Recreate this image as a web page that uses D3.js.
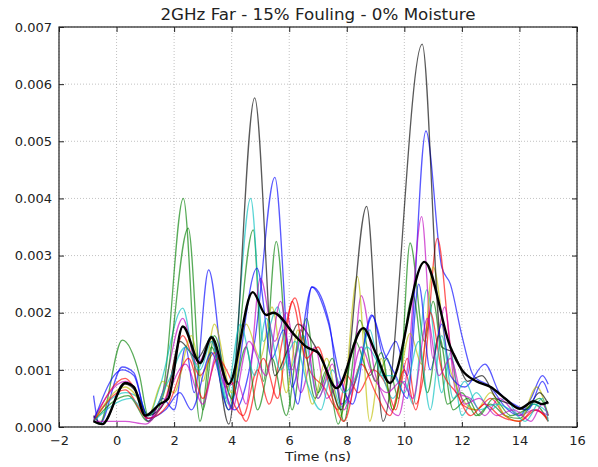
<!DOCTYPE html>
<html>
<head>
<meta charset="utf-8">
<script src="https://d3js.org/d3.v7.min.js"></script>
<style>
  body { margin: 0; background: #fff; }
  text { font-family: "DejaVu Sans", sans-serif; fill: #222; }
</style>
</head>
<body>
<div id="chart"></div>
<script>
// chart values (time in ns, amplitude)
var title = "2GHz Far - 15% Fouling - 0% Moisture";
var xLabel = "Time (ns)";
var xTicks = [-2, 0, 2, 4, 6, 8, 10, 12, 14, 16];
var yTicks = [0, 0.001, 0.002, 0.003, 0.004, 0.005, 0.006, 0.007];

var seriesColors = ["#0000ff", "#008000", "#ff0000", "#00bfbf", "#bf00bf", "#bfbf00",
                    "#000000", "#0000ff", "#008000", "#ff0000", "#00bfbf", "#bf00bf"];

// each trace as [t, value] turning points
var trace1 = [[-0.8,0.00055],[-0.6,0.00005],[0.2,0.00105],[0.6,0.00095],[1.1,0.0001],[1.6,0.0005],[2.0,0.0003],[2.4,0.0014],[2.7,0.0006],[3.2,0.00275],[3.8,0.0006],[4.1,0.0003],[4.8,0.0015],[5.5,0.00437],[6.1,0.0007],[6.8,0.00245],[7.4,0.0018],[7.8,0.0004],[8.3,0.0008],[8.9,0.00195],[9.3,0.0012],[9.7,0.0015],[10.1,0.0009],[10.75,0.00518],[11.3,0.0028],[11.6,0.0025],[12.0,0.0016],[12.4,0.0009],[13.0,0.0007],[13.5,0.00035],[14.0,0.0002],[14.4,0.0005],[14.8,0.0009],[15.0,0.00075]];
var trace2 = [[-0.8,0.0001],[-0.6,0.00005],[0.2,0.00152],[0.8,0.0009],[1.1,0.0002],[1.6,0.0006],[2.32,0.004],[2.9,0.0001],[3.3,0.0014],[3.9,0.0003],[4.75,0.00345],[5.1,0.0008],[5.55,0.00325],[6.1,0.0003],[6.6,0.0019],[7.0,0.0006],[7.5,0.0012],[7.9,0.0001],[8.45,0.00187],[9.0,0.0008],[9.4,0.0012],[9.8,0.0005],[10.2,0.00322],[10.7,0.0015],[11.0,0.0022],[11.5,0.0004],[12.0,0.0006],[12.5,0.0002],[13.0,0.0004],[13.5,0.0002],[14.0,0.00015],[14.5,0.0004],[15.0,0.0001]];
var trace3 = [[-0.8,0.0001],[0.3,0.00085],[0.6,0.0007],[1.1,0.00015],[1.7,0.0005],[2.3,0.0016],[2.9,0.0009],[3.4,0.0013],[3.9,0.0006],[4.4,0.0002],[4.9,0.001],[5.3,0.0004],[5.8,0.0016],[6.2,0.00226],[6.7,0.001],[7.2,0.0007],[7.7,0.0003],[8.0,0.0009],[8.4,0.0006],[8.9,0.001],[9.4,0.0007],[9.7,0.0003],[10.1,0.0012],[10.4,0.0004],[10.7,0.001],[11.15,0.0033],[11.6,0.0014],[12.0,0.0004],[12.5,0.0003],[13.0,0.0005],[13.5,0.0002],[14.0,0.0001],[14.5,0.0003],[15.0,0.00015]];
var trace4 = [[-0.8,0.00015],[0.3,0.0006],[0.8,0.0005],[1.1,0.0002],[1.5,0.0007],[2.3,0.00208],[2.8,0.001],[3.3,0.0016],[3.9,0.0004],[4.66,0.004],[5.1,0.0015],[5.6,0.0021],[6.0,0.001],[6.5,0.0016],[7.0,0.0005],[7.4,0.0009],[7.8,0.00035],[8.3,0.0008],[8.7,0.0014],[9.1,0.0011],[9.6,0.0005],[10.0,0.0008],[10.3,0.0004],[10.78,0.0024],[11.3,0.0006],[11.6,0.0013],[12.0,0.0002],[12.5,0.0006],[13.0,0.0003],[13.5,0.0005],[14.0,0.0002],[14.5,0.0004],[15.0,0.00025]];
var trace5 = [[-0.8,0.00015],[0.3,0.0008],[0.6,0.0007],[1.1,0.0001],[1.6,0.0006],[2.3,0.0019],[2.8,0.0011],[3.3,0.0015],[3.8,0.0007],[4.2,0.0008],[4.5,0.0004],[5.0,0.0026],[5.5,0.0015],[5.9,0.002],[6.4,0.0006],[6.9,0.0014],[7.3,0.0005],[7.8,0.0008],[8.1,0.0004],[8.5,0.0023],[9.0,0.0009],[9.3,0.0005],[9.8,0.0002],[10.1,0.001],[10.6,0.00368],[11.0,0.0012],[11.4,0.0021],[11.8,0.0006],[12.3,0.0005],[12.8,0.0002],[13.3,0.0005],[14.0,0.0002],[14.5,0.0003],[15.0,0.0002]];
var trace6 = [[-0.8,0.0001],[0.3,0.0007],[0.6,0.0006],[1.1,0.0002],[1.6,0.0008],[2.0,0.0006],[2.6,0.0016],[3.0,0.0008],[3.4,0.0018],[4.0,0.0006],[4.5,0.0018],[5.0,0.0012],[5.4,0.0021],[5.9,0.0006],[6.3,0.0017],[6.8,0.0004],[7.3,0.0012],[7.8,0.0002],[8.37,0.00263],[8.8,0.0001],[9.2,0.0012],[9.6,0.0003],[10.2,0.00164],[10.6,0.0011],[11.0,0.0028],[11.5,0.0012],[12.0,0.0005],[12.5,0.0003],[13.0,0.0006],[13.5,0.0002],[14.0,0.0001],[14.6,0.0007],[15.0,0.0002]];
var trace7 = [[-0.8,0.0002],[-0.5,0.00005],[0.3,0.00075],[0.7,0.0006],[1.1,0.0002],[1.7,0.00045],[2.2,0.0015],[2.8,0.0012],[3.3,0.00155],[3.9,0.00005],[4.8,0.00576],[5.5,0.0009],[5.9,0.0013],[6.3,0.0018],[6.8,0.0015],[7.3,0.001],[7.8,0.0003],[8.69,0.00386],[9.26,0.0001],[10.62,0.0067],[11.3,0.0014],[11.7,0.0013],[12.2,0.0008],[12.7,0.0009],[13.2,0.0005],[13.7,0.0004],[14.2,0.0003],[14.7,0.0006],[15.0,0.0004]];
var trace8 = [[-0.8,0.0001],[0.2,0.001],[0.6,0.0009],[1.1,0.00015],[1.7,0.0003],[2.2,0.0006],[2.6,0.0003],[3.3,0.0013],[3.9,0.0003],[4.88,0.00278],[5.4,0.0012],[5.8,0.0017],[6.3,0.0004],[6.78,0.00245],[7.35,0.00184],[7.8,0.0008],[8.2,0.0004],[8.86,0.00196],[9.3,0.0013],[9.7,0.0009],[10.1,0.0005],[10.5,0.0025],[10.9,0.001],[11.3,0.0018],[11.6,0.0009],[12.1,0.0007],[12.8,0.0011],[13.3,0.0006],[13.8,0.0004],[14.3,0.0003],[14.8,0.0008],[15.0,0.0006]];
var trace9 = [[-0.8,0.0001],[0.4,0.00055],[1.1,0.0001],[1.7,0.0007],[2.49,0.00348],[3.0,0.0003],[3.4,0.0016],[4.0,0.0005],[4.5,0.0014],[4.9,0.0003],[5.4,0.0012],[5.9,0.0002],[6.4,0.0017],[6.9,0.0005],[7.3,0.001],[7.7,0.00005],[8.3,0.0015],[8.8,0.0009],[9.2,0.0013],[9.6,0.0003],[10.3,0.0023],[10.8,0.0006],[11.2,0.0016],[11.7,0.0003],[12.2,0.0005],[12.6,0.0002],[13.1,0.0005],[13.7,0.0002],[14.2,0.0003],[14.7,0.0005],[15.0,0.0002]];
var trace10 = [[-0.8,0.0001],[0.3,0.00065],[1.1,0.00015],[1.8,0.0004],[2.5,0.0012],[3.0,0.0005],[3.5,0.0012],[4.0,0.0008],[4.5,0.0001],[5.1,0.0012],[5.6,0.0005],[6.1,0.0022],[6.6,0.0012],[7.0,0.0014],[7.5,0.0005],[7.9,0.0001],[8.5,0.0011],[9.0,0.0006],[9.5,0.0002],[10.0,0.001],[10.4,0.0003],[10.9,0.002],[11.3,0.001],[11.8,0.0006],[12.3,0.0002],[12.8,0.0004],[13.3,0.0002],[14.0,0.0001],[14.6,0.0003],[15.0,0.0001]];
var trace11 = [[-0.8,0.0001],[0.5,0.0005],[1.1,0.0002],[1.8,0.0008],[2.4,0.0014],[2.9,0.001],[3.3,0.0015],[3.8,0.0005],[4.3,0.0018],[4.8,0.0009],[5.2,0.0019],[5.7,0.001],[6.2,0.0015],[6.6,0.0008],[7.1,0.0003],[7.5,0.001],[7.9,0.0006],[8.4,0.001],[8.8,0.0017],[9.2,0.0009],[9.6,0.0009],[10.0,0.0006],[10.5,0.0015],[10.9,0.0003],[11.3,0.0016],[11.7,0.0005],[12.1,0.0008],[12.6,0.0003],[13.2,0.0004],[13.7,0.0003],[14.2,0.0001],[14.8,0.0005],[15.0,0.0001]];
var trace12 = [[-0.8,0.0001],[0.3,0.0001],[1.0,0.00005],[1.6,0.0004],[2.4,0.0011],[3.0,0.0004],[3.5,0.0013],[4.0,0.0003],[4.6,0.0015],[5.2,0.0009],[5.7,0.0022],[6.1,0.001],[6.5,0.0018],[7.0,0.0005],[7.5,0.0011],[7.9,0.0003],[8.5,0.0014],[8.9,0.0009],[9.4,0.0006],[9.9,0.0008],[10.3,0.0005],[10.8,0.0019],[11.2,0.0009],[11.6,0.0012],[12.1,0.0004],[12.6,0.0005],[13.2,0.0002],[13.8,0.0003],[14.4,0.0001],[14.8,0.0004],[15.0,0.0002]];
var traces = [trace1, trace2, trace3, trace4, trace5, trace6, trace7, trace8, trace9, trace10, trace11, trace12];

// thick black average trace
var meanTrace = [[-0.8,0.0001],[-0.5,0.00005],[0.3,0.00077],[0.6,0.0007],[1.0,0.0002],[1.5,0.0004],[1.8,0.0005],[2.3,0.00176],[2.9,0.00112],[3.3,0.00157],[3.9,0.00075],[4.73,0.00236],[5.2,0.00196],[5.45,0.002],[6.2,0.0016],[6.6,0.0014],[7.0,0.0013],[7.65,0.00068],[8.57,0.00173],[9.0,0.0013],[9.5,0.00077],[10.7,0.00289],[11.6,0.0014],[12.0,0.001],[12.5,0.0008],[13.0,0.0007],[13.5,0.0005],[14.0,0.00032],[14.5,0.00045],[14.8,0.0004],[15.0,0.00044]];

//--------------------------------------------------------------------------
//
// chart
//

var margin = {top: 27, right: 21, bottom: 40, left: 59},
    outerWidth = 598,
    outerHeight = 467,
    width = outerWidth - margin.left - margin.right,
    height = outerHeight - margin.top - margin.bottom;

var svg = d3.select("#chart").append("svg")
    .attr("width", outerWidth)
    .attr("height", outerHeight)
    .append("g")
    .attr("transform", "translate(" + margin.left + "," + margin.top + ")");

var x = d3.scaleLinear().domain([-2, 16]).range([0, width]);
var y = d3.scaleLinear().domain([0, 0.007]).range([height, 0]);

svg.append("clipPath")
    .attr("id", "plot-area")
    .append("rect")
    .attr("width", width)
    .attr("height", height);

// grid
svg.append("g")
    .selectAll("line")
    .data(xTicks)
    .enter().append("line")
    .attr("x1", function(d) { return x(d); })
    .attr("x2", function(d) { return x(d); })
    .attr("y1", 0)
    .attr("y2", height)
    .attr("stroke", "#999")
    .attr("stroke-width", 0.6)
    .attr("stroke-dasharray", "1,2");

svg.append("g")
    .selectAll("line")
    .data(yTicks)
    .enter().append("line")
    .attr("x1", 0)
    .attr("x2", width)
    .attr("y1", function(d) { return y(d); })
    .attr("y2", function(d) { return y(d); })
    .attr("stroke", "#999")
    .attr("stroke-width", 0.6)
    .attr("stroke-dasharray", "1,2");

var line = d3.line()
    .x(function(d) { return x(d[0]); })
    .y(function(d) { return y(d[1]); })
    .curve(d3.curveMonotoneX);

var lines = svg.append("g").attr("clip-path", "url(#plot-area)");

lines.selectAll("path.trace")
    .data(traces)
    .enter().append("path")
    .attr("class", "trace")
    .attr("d", line)
    .attr("fill", "none")
    .attr("stroke", function(d, i) { return seriesColors[i]; })
    .attr("stroke-opacity", 0.65)
    .attr("stroke-width", 1.3);

lines.append("path")
    .attr("d", line(meanTrace))
    .attr("fill", "none")
    .attr("stroke", "#000")
    .attr("stroke-width", 2.4);

// axes (ticks inside, on all sides)
var xAxis = d3.axisBottom(x).tickValues(xTicks).tickSizeInner(-5).tickSizeOuter(0).tickPadding(9)
    .tickFormat(d3.format("d"));
var yAxis = d3.axisLeft(y).tickValues(yTicks).tickSizeInner(-5).tickSizeOuter(0).tickPadding(7)
    .tickFormat(d3.format(".3f"));

svg.append("g")
    .attr("transform", "translate(0," + height + ")")
    .call(xAxis);
svg.append("g")
    .call(yAxis);
svg.append("g")
    .call(d3.axisTop(x).tickValues(xTicks).tickSizeInner(-5).tickSizeOuter(0).tickFormat(""));
svg.append("g")
    .attr("transform", "translate(" + width + ",0)")
    .call(d3.axisRight(y).tickValues(yTicks).tickSizeInner(-5).tickSizeOuter(0).tickFormat(""));

svg.selectAll(".domain").remove();
svg.selectAll(".tick text")
    .style("font-size", "13px")
    .style("font-family", "DejaVu Sans, sans-serif")
    .attr("fill", "#222");
svg.selectAll(".tick line").attr("stroke", "#222");

svg.append("rect")
    .attr("width", width)
    .attr("height", height)
    .attr("fill", "none")
    .attr("stroke", "#222")
    .attr("stroke-width", 1.2);

svg.append("text")
    .attr("x", width / 2)
    .attr("y", -7)
    .attr("text-anchor", "middle")
    .attr("textLength", 315)
    .attr("lengthAdjust", "spacingAndGlyphs")
    .style("font-size", "15px")
    .text(title);

svg.append("text")
    .attr("x", width / 2)
    .attr("y", height + 34)
    .attr("text-anchor", "middle")
    .attr("textLength", 66)
    .attr("lengthAdjust", "spacingAndGlyphs")
    .style("font-size", "13px")
    .text(xLabel);
</script>
</body>
</html>
